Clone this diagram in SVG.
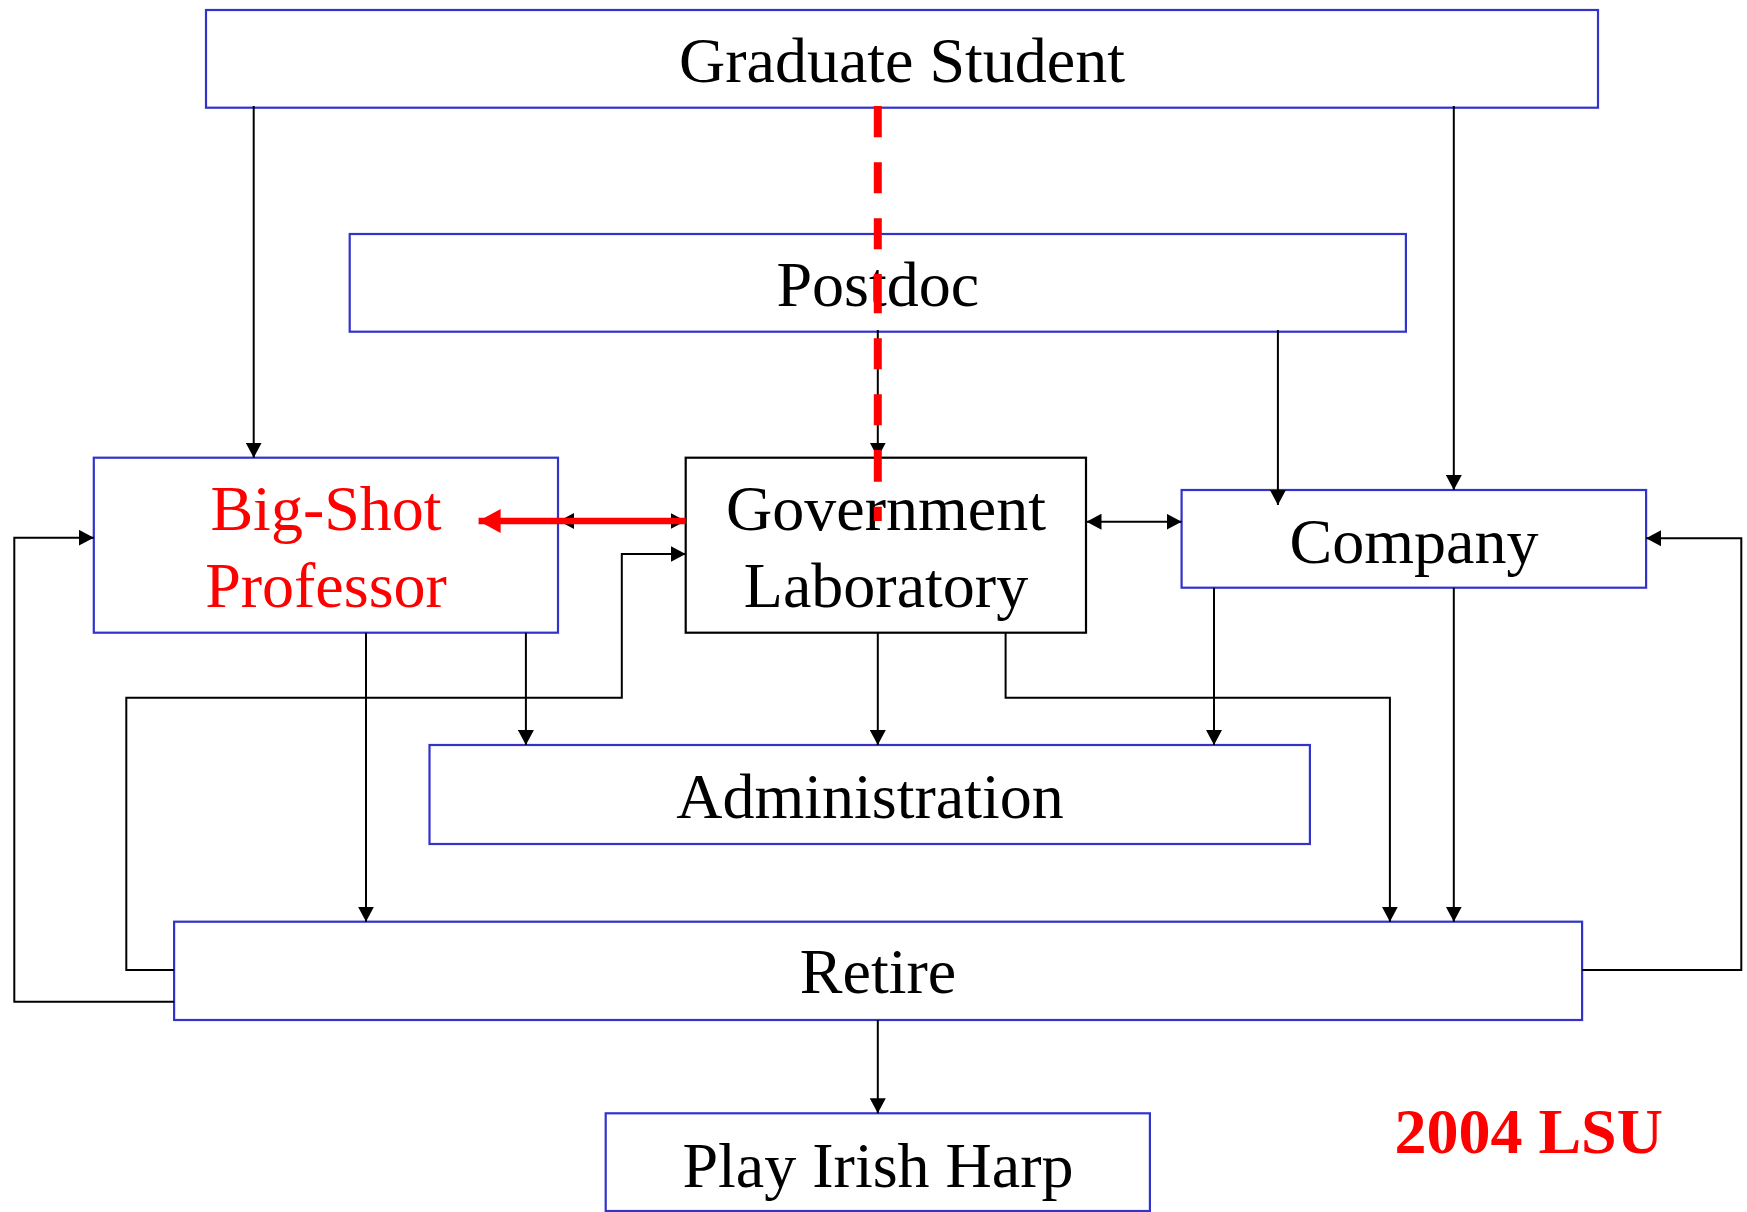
<svg xmlns="http://www.w3.org/2000/svg" width="1747" height="1212" viewBox="0 0 1747 1212">
  <style>
    .box { fill: #ffffff; stroke: #3333cc; stroke-width: 2.2; }
    .box-black { fill: #ffffff; stroke: #000000; stroke-width: 2.2; }
    .lbl { font-family: "Liberation Serif", "Times New Roman", serif; font-size: 64px; fill: #000000; text-anchor: middle; }
    .red { fill: #ff0000; }
    .wire { fill: none; stroke: #000000; stroke-width: 2; }
    .arrow { marker-end: url(#ah); }
    .both { marker-start: url(#ah); marker-end: url(#ah); }
  </style>
  <defs>
    <marker id="ah" markerUnits="userSpaceOnUse" markerWidth="16" markerHeight="16" refX="15" refY="8" orient="auto-start-reverse">
      <path d="M0,0 L15,8 L0,16 Z" fill="#000000"/>
    </marker>
    <marker id="ah-red" markerUnits="userSpaceOnUse" markerWidth="23" markerHeight="24" refX="22" refY="12" orient="auto-start-reverse">
      <path d="M0,0 L22,12 L0,24 Z" fill="#ff0000"/>
    </marker>
  </defs>

  <rect width="1747" height="1212" fill="#ffffff"/>

  <!-- nodes -->
  <g id="graduate-student">
    <rect class="box" x="206" y="10" width="1392" height="97.7"/>
    <text class="lbl" x="902" y="81.7">Graduate Student</text>
  </g>
  <g id="postdoc">
    <rect class="box" x="349.7" y="234" width="1056.2" height="97.7"/>
    <text class="lbl" x="877.8" y="306">Postdoc</text>
  </g>
  <g id="big-shot-professor">
    <rect class="box" x="93.8" y="457.7" width="464.2" height="175"/>
    <text class="lbl red" x="326" y="530">Big-Shot</text>
    <text class="lbl red" x="326" y="606.7">Professor</text>
  </g>
  <g id="government-laboratory">
    <rect class="box-black" x="685.7" y="457.7" width="400.3" height="175"/>
    <text class="lbl" x="886" y="530">Government</text>
    <text class="lbl" x="886" y="606.7">Laboratory</text>
  </g>
  <g id="company">
    <rect class="box" x="1181.6" y="490" width="464.5" height="97.7"/>
    <text class="lbl" x="1414" y="562.7">Company</text>
  </g>
  <g id="administration">
    <rect class="box" x="429.5" y="745" width="880.4" height="99"/>
    <text class="lbl" x="870" y="818.3">Administration</text>
  </g>
  <g id="retire">
    <rect class="box" x="174.1" y="921.7" width="1408" height="98.3"/>
    <text class="lbl" x="878" y="993.3">Retire</text>
  </g>
  <g id="play-irish-harp">
    <rect class="box" x="605.7" y="1113.3" width="544.2" height="97.7"/>
    <text class="lbl" x="878" y="1186.7">Play Irish Harp</text>
  </g>

  <!-- connectors -->
  <g id="connectors">
    <path class="wire arrow" d="M253.7,106 V457.7"/>
    <path class="wire arrow" d="M1453.8,106 V490"/>
    <path class="wire arrow" d="M877.8,330 V457.7"/>
    <path class="wire arrow" d="M1277.9,330 V505"/>
    <path class="wire both" d="M559,521 H685.7"/>
    <path class="wire both" d="M1086.5,521.7 H1181.6"/>
    <path class="wire arrow" d="M525.9,632.7 V745"/>
    <path class="wire arrow" d="M877.8,632.7 V745"/>
    <path class="wire arrow" d="M1214,587.7 V745"/>
    <path class="wire arrow" d="M366,632.7 V921.7"/>
    <path class="wire arrow" d="M1005.6,632.7 V697.7 H1389.9 V921.7"/>
    <path class="wire arrow" d="M1453.8,587.7 V921.7"/>
    <path class="wire arrow" d="M1582.1,970 H1741.3 V538.3 H1646.1"/>
    <path class="wire arrow" d="M174.1,1001.7 H14.3 V537.7 H93.8"/>
    <path class="wire arrow" d="M174.1,970 H126.3 V697.7 H621.8 V554 H685.7"/>
    <path class="wire arrow" d="M877.8,1020 V1113.3"/>

    <!-- highlighted path: professor track -->
    <path d="M685.7,521 H478.6" fill="none" stroke="#ff0000" stroke-width="6.5" marker-end="url(#ah-red)"/>
    <path d="M877.8,106 V137.3 M877.8,162.3 V193.3 M877.8,218.3 V249.3 M877.8,274 V313.3 M877.8,338.3 V369.3 M877.8,394.3 V425.3 M877.8,450 V481.7 M877.8,506.7 V521" fill="none" stroke="#ff0000" stroke-width="8"/>
  </g>

  <text x="1394.4" y="1153.3" font-family="Liberation Serif, 'Times New Roman', serif" font-size="64" font-weight="bold" fill="#ff0000">2004 LSU</text>
</svg>
